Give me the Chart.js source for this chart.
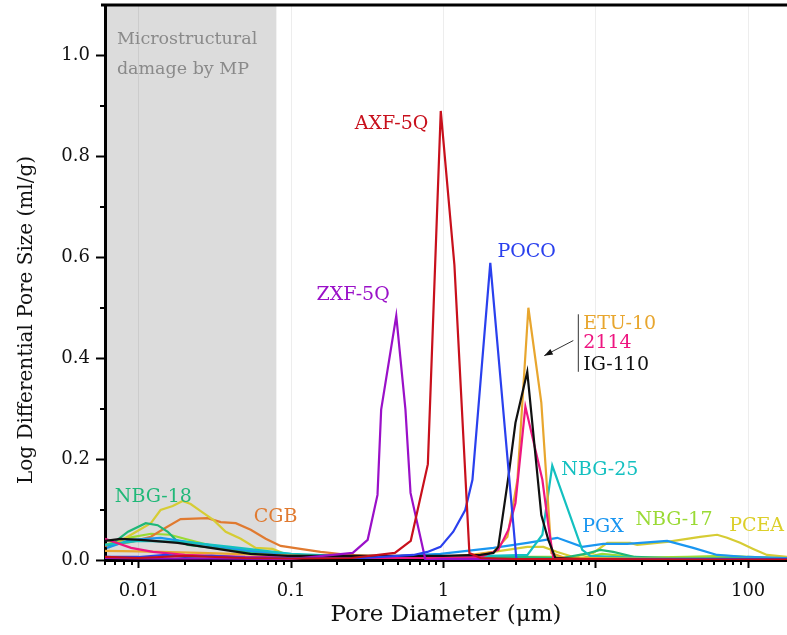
<!DOCTYPE html>
<html>
<head>
<meta charset="utf-8">
<script src="https://cdn.jsdelivr.net/npm/chart.js@4.4.0/dist/chart.umd.min.js"></script>
<style>
  html, body { margin: 0; padding: 0; background: #fff; }
</style>
</head>
<body>
<canvas id="poreChart" width="787" height="635"></canvas>
<script>
// pore diameter (um) vs log differential pore size (ml/g)
const axfX = [0.006, 0.01, 0.02, 0.05, 0.1, 0.25, 0.48, 0.61, 0.79, 0.96, 1.18, 1.48, 1.75, 3, 10, 50, 180];
const axfY = [0.006, 0.004, 0.008, 0.004, 0.003, 0.004, 0.014, 0.038, 0.19, 0.89, 0.585, 0.014, 0.004, 0.002, 0.002, 0.001, 0.001];

const zxfX = [0.006, 0.01, 0.03, 0.1, 0.254, 0.318, 0.369, 0.39, 0.49, 0.563, 0.608, 0.762, 1, 5, 180];
const zxfY = [0.004, 0.003, 0.003, 0.002, 0.014, 0.04, 0.129, 0.298, 0.484, 0.298, 0.133, 0.0, 0.002, 0.002, 0.002];

const pocoX = [0.006, 0.01, 0.015, 0.02, 0.03, 0.05, 0.1, 0.3, 0.636, 0.785, 0.956, 1.16, 1.39, 1.55, 2.03, 3.01, 3.7, 10, 180];
const pocoY = [0.006, 0.006, 0.01, 0.006, 0.008, 0.005, 0.004, 0.004, 0.01, 0.016, 0.026, 0.056, 0.099, 0.159, 0.589, 0.002, 0.001, 0.002, 0.002];

const etuX = [0.006, 0.01, 0.025, 0.115, 0.3, 1, 1.5, 2.13, 2.63, 2.88, 3.06, 3.61, 4.39, 5.11, 6.3, 20, 180];
const etuY = [0.018, 0.017, 0.014, 0.008, 0.006, 0.006, 0.01, 0.016, 0.046, 0.113, 0.159, 0.5, 0.312, 0.014, 0.004, 0.003, 0.002];

const s2114X = [0.006, 0.0089, 0.0124, 0.02, 0.05, 0.2, 1, 1.75, 2.29, 2.67, 2.97, 3.45, 4.46, 4.88, 5.26, 7, 30, 180];
const s2114Y = [0.042, 0.024, 0.016, 0.01, 0.006, 0.004, 0.004, 0.006, 0.02, 0.06, 0.113, 0.304, 0.159, 0.069, 0.004, 0.002, 0.002, 0.002];

const igX = [0.006, 0.0076, 0.0103, 0.018, 0.0297, 0.054, 0.095, 0.2, 0.5, 1, 1.75, 2.13, 2.29, 2.67, 2.97, 3.55, 4.39, 4.88, 5.43, 8, 30, 180];
const igY = [0.038, 0.042, 0.04, 0.034, 0.024, 0.012, 0.008, 0.008, 0.008, 0.008, 0.01, 0.014, 0.026, 0.165, 0.272, 0.373, 0.089, 0.04, 0.004, 0.002, 0.002, 0.002];

const nbg25X = [0.006, 0.01, 0.02, 0.04, 0.1, 0.3, 1, 2, 3.56, 4.46, 5.18, 8.15, 9.2, 20, 180];
const nbg25Y = [0.03, 0.038, 0.036, 0.026, 0.012, 0.006, 0.006, 0.008, 0.01, 0.05, 0.187, 0.02, 0.008, 0.004, 0.002];

const pgxX = [0.00617, 0.00887, 0.0139, 0.0255, 0.0543, 0.115, 0.245, 0.523, 0.956, 2.13, 3.56, 5.59, 8.15, 11.2, 16.1, 29.4, 43.6, 62.6, 98.5, 180];
const pgxY = [0.024, 0.04, 0.044, 0.032, 0.018, 0.01, 0.006, 0.008, 0.012, 0.024, 0.034, 0.044, 0.026, 0.032, 0.032, 0.038, 0.024, 0.01, 0.006, 0.004];

const nbg17X = [0.006, 0.0089, 0.012, 0.016, 0.02, 0.03, 0.05, 0.1, 0.3, 1, 3, 5, 8, 11, 15, 20, 40, 70, 100, 180];
const nbg17Y = [0.03, 0.045, 0.052, 0.05, 0.042, 0.028, 0.016, 0.008, 0.004, 0.004, 0.006, 0.006, 0.004, 0.012, 0.008, 0.005, 0.006, 0.008, 0.006, 0.004];

const nbg18X = [0.0063, 0.0085, 0.0111, 0.0133, 0.0155, 0.0175, 0.021, 0.054, 0.115, 0.5, 1, 3, 6, 8.5, 10.7, 13, 18, 30, 100, 180];
const nbg18Y = [0.026, 0.056, 0.073, 0.069, 0.056, 0.04, 0.03, 0.016, 0.008, 0.004, 0.004, 0.006, 0.004, 0.012, 0.02, 0.016, 0.006, 0.004, 0.004, 0.003];

const cgbX = [0.006, 0.0089, 0.012, 0.015, 0.0188, 0.0283, 0.0345, 0.0433, 0.0543, 0.0681, 0.0853, 0.115, 0.156, 0.235, 0.523, 2.36, 180];
const cgbY = [0.028, 0.036, 0.046, 0.064, 0.081, 0.083, 0.075, 0.073, 0.06, 0.042, 0.028, 0.022, 0.016, 0.01, 0.006, 0.004, 0.003];

const pceaX = [0.0063, 0.0089, 0.012, 0.0139, 0.0167, 0.0194, 0.0219, 0.0255, 0.031, 0.0372, 0.0467, 0.0585, 0.0756, 0.0948, 0.115, 0.523, 1.5, 2.13, 3.56, 4.53, 5.59, 7.12, 9.63, 11.9, 16.8, 18.7, 29.4, 48.4, 62.6, 72.8, 88.6, 108, 133, 180];
const pceaY = [0.024, 0.05, 0.073, 0.099, 0.107, 0.117, 0.111, 0.097, 0.079, 0.056, 0.042, 0.024, 0.022, 0.01, 0.008, 0.006, 0.008, 0.016, 0.026, 0.026, 0.016, 0.006, 0.014, 0.034, 0.034, 0.03, 0.036, 0.046, 0.05, 0.044, 0.034, 0.022, 0.01, 0.006];

const xTicks = [0.01, 0.1, 1, 10, 100];
const xTickLabels = ['0.01', '0.1', '1', '10', '100'];
const yTicks = [0, 0.2, 0.4, 0.6, 0.8, 1.0];
const yTickLabels = ['0.0', '0.2', '0.4', '0.6', '0.8', '1.0'];
const damageLimit = 0.08; // right edge of the grey "microstructural damage" zone

const FONT = '"DejaVu Serif", serif';

function pts(xs, ys) {
  return xs.map(function(x, i) { return { x: x, y: ys[i] }; });
}

function series(label, xs, ys, color) {
  return {
    label: label,
    data: pts(xs, ys),
    borderColor: color,
    backgroundColor: color,
    borderWidth: 2.2,
    pointRadius: 0,
    tension: 0,
    fill: false
  };
}

// text labels next to the curves, anchored in data units
const curveLabels = [
  { text: 'AXF-5Q', x: 0.797, y: 0.865, color: '#c8101c', align: 'right', size: 19 },
  { text: 'ZXF-5Q', x: 0.147, y: 0.526, color: '#9a10c8', align: 'left', size: 19 },
  { text: 'POCO', x: 2.26, y: 0.611, color: '#2a40ee', align: 'left', size: 19 },
  { text: 'ETU-10', x: 8.28, y: 0.468, color: '#e8a62e', align: 'left', size: 19 },
  { text: '2114', x: 8.28, y: 0.429, color: '#ee1680', align: 'left', size: 19 },
  { text: 'IG-110', x: 8.28, y: 0.387, color: '#111111', align: 'left', size: 19 },
  { text: 'NBG-25', x: 5.94, y: 0.179, color: '#14c0c0', align: 'left', size: 19 },
  { text: 'PGX', x: 8.15, y: 0.065, color: '#1a96f0', align: 'left', size: 19 },
  { text: 'NBG-17', x: 18.2, y: 0.079, color: '#9ada34', align: 'left', size: 19 },
  { text: 'PCEA', x: 75.1, y: 0.067, color: '#dccf2a', align: 'left', size: 19 },
  { text: 'NBG-18', x: 0.00696, y: 0.125, color: '#20b878', align: 'left', size: 19 },
  { text: 'CGB', x: 0.0568, y: 0.085, color: '#e07a30', align: 'left', size: 19 },
  { text: 'Microstructural', x: 0.00718, y: 1.032, color: '#8a8a8a', align: 'left', size: 17.5 },
  { text: 'damage by MP', x: 0.00718, y: 0.972, color: '#8a8a8a', align: 'left', size: 17.5 }
];

const backdrop = {
  id: 'backdrop',
  beforeDraw: function(chart) {
    const ctx = chart.ctx;
    const a = chart.chartArea;
    const xs = chart.scales.x;
    ctx.save();
    ctx.fillStyle = '#ffffff';
    ctx.fillRect(0, 0, chart.width, chart.height);
    ctx.fillStyle = '#dcdcdc';
    const right = xs.getPixelForValue(damageLimit);
    ctx.fillRect(a.left, a.top, right - a.left, a.bottom - a.top);
    ctx.restore();
  }
};

const frameBits = {
  id: 'frameBits',
  afterDraw: function(chart) {
    const ctx = chart.ctx;
    const a = chart.chartArea;
    const xs = chart.scales.x;
    const ys = chart.scales.y;
    ctx.save();
    ctx.strokeStyle = '#000';
    ctx.lineWidth = 2;
    // minor ticks, log x
    for (let e = -3; e <= 2; e++) {
      for (let m = 2; m <= 9; m++) {
        const v = m * Math.pow(10, e);
        if (v < xs.min || v > xs.max) continue;
        const px = Math.round(xs.getPixelForValue(v));
        ctx.beginPath();
        ctx.moveTo(px, a.bottom);
        ctx.lineTo(px, a.bottom + 5);
        ctx.stroke();
      }
    }
    // minor ticks, y
    [0.1, 0.3, 0.5, 0.7, 0.9].forEach(function(v) {
      const py = Math.round(ys.getPixelForValue(v));
      ctx.beginPath();
      ctx.moveTo(a.left, py);
      ctx.lineTo(a.left - 5, py);
      ctx.stroke();
    });
    // top frame line
    ctx.lineWidth = 3;
    ctx.beginPath();
    ctx.moveTo(a.left - 4, a.top);
    ctx.lineTo(chart.width, a.top);
    ctx.stroke();

    // y axis title, centred a little below the plot middle as in the source
    ctx.save();
    ctx.translate(27, 320);
    ctx.rotate(-Math.PI / 2);
    ctx.fillStyle = '#111';
    ctx.font = '20px ' + FONT;
    ctx.textAlign = 'center';
    ctx.textBaseline = 'middle';
    ctx.fillText('Log Differential Pore Size (ml/g)', 0, 0);
    ctx.restore();

    // curve labels
    ctx.textBaseline = 'middle';
    curveLabels.forEach(function(l) {
      ctx.font = l.size + 'px ' + FONT;
      ctx.fillStyle = l.color;
      ctx.textAlign = l.align;
      ctx.fillText(l.text, xs.getPixelForValue(l.x), ys.getPixelForValue(l.y));
    });

    // bracket + arrow for the three overlapping peaks
    ctx.strokeStyle = '#333';
    ctx.fillStyle = '#111';
    ctx.lineWidth = 1;
    const bx = xs.getPixelForValue(7.68);
    ctx.beginPath();
    ctx.moveTo(bx, ys.getPixelForValue(0.487));
    ctx.lineTo(bx, ys.getPixelForValue(0.373));
    ctx.stroke();
    const x1 = xs.getPixelForValue(7.12), y1 = ys.getPixelForValue(0.435);
    const x2 = xs.getPixelForValue(4.59), y2 = ys.getPixelForValue(0.405);
    ctx.beginPath();
    ctx.moveTo(x1, y1);
    ctx.lineTo(x2, y2);
    ctx.stroke();
    const ang = Math.atan2(y2 - y1, x2 - x1);
    ctx.beginPath();
    ctx.moveTo(x2, y2);
    ctx.lineTo(x2 - 9 * Math.cos(ang - 0.35), y2 - 9 * Math.sin(ang - 0.35));
    ctx.lineTo(x2 - 9 * Math.cos(ang + 0.35), y2 - 9 * Math.sin(ang + 0.35));
    ctx.closePath();
    ctx.fill();
    ctx.restore();
  }
};

const ctx = document.getElementById('poreChart').getContext('2d');
new Chart(ctx, {
  type: 'line',
  data: {
    datasets: [
      series('AXF-5Q', axfX, axfY, '#c8101c'),
      series('POCO', pocoX, pocoY, '#2a40ee'),
      series('ZXF-5Q', zxfX, zxfY, '#9a10c8'),
      series('IG-110', igX, igY, '#111111'),
      series('2114', s2114X, s2114Y, '#ee1680'),
      series('ETU-10', etuX, etuY, '#e8a62e'),
      series('NBG-25', nbg25X, nbg25Y, '#14c0c0'),
      series('PGX', pgxX, pgxY, '#1a96f0'),
      series('NBG-18', nbg18X, nbg18Y, '#20b878'),
      series('PCEA', pceaX, pceaY, '#d6cc34'),
      series('CGB', cgbX, cgbY, '#e07a30'),
      series('NBG-17', nbg17X, nbg17Y, '#9ada34')
    ]
  },
  options: {
    responsive: false,
    animation: false,
    devicePixelRatio: 1,
    layout: { padding: { top: 5, right: 0, left: 0, bottom: 0 } },
    plugins: {
      legend: { display: false },
      tooltip: { enabled: false }
    },
    scales: {
      x: {
        type: 'logarithmic',
        min: 0.006,
        max: 180,
        afterBuildTicks: function(s) {
          s.ticks = xTicks.map(function(v) { return { value: v }; });
        },
        afterFit: function(s) {
          s.height = 75;
          s.paddingLeft = 0;
          s.paddingRight = 0;
        },
        ticks: {
          autoSkip: false,
          maxRotation: 0,
          padding: 13,
          color: '#111',
          font: { family: FONT, size: 18 },
          callback: function(v, i) { return xTickLabels[i]; }
        },
        grid: {
          color: 'rgba(0,0,0,0.07)',
          lineWidth: 1,
          tickColor: '#000',
          tickLength: 8,
          tickWidth: 2
        },
        border: { display: true, color: '#000', width: 3 },
        title: {
          display: true,
          text: 'Pore Diameter (μm)',
          color: '#111',
          font: { family: FONT, size: 23 },
          padding: { top: 0, bottom: 6 }
        }
      },
      y: {
        type: 'linear',
        min: 0,
        max: 1.1,
        afterBuildTicks: function(s) {
          s.ticks = yTicks.map(function(v) { return { value: v }; });
        },
        afterFit: function(s) {
          s.width = 105;
          s.paddingTop = 0;
          s.paddingBottom = 0;
        },
        ticks: {
          padding: 6,
          color: '#111',
          font: { family: FONT, size: 18 },
          callback: function(v, i) { return yTickLabels[i]; }
        },
        grid: {
          drawOnChartArea: false,
          tickColor: '#000',
          tickLength: 9,
          tickWidth: 2
        },
        border: { display: true, color: '#000', width: 3 },
        title: { display: false }
      }
    }
  },
  plugins: [backdrop, frameBits]
});
</script>
</body>
</html>
